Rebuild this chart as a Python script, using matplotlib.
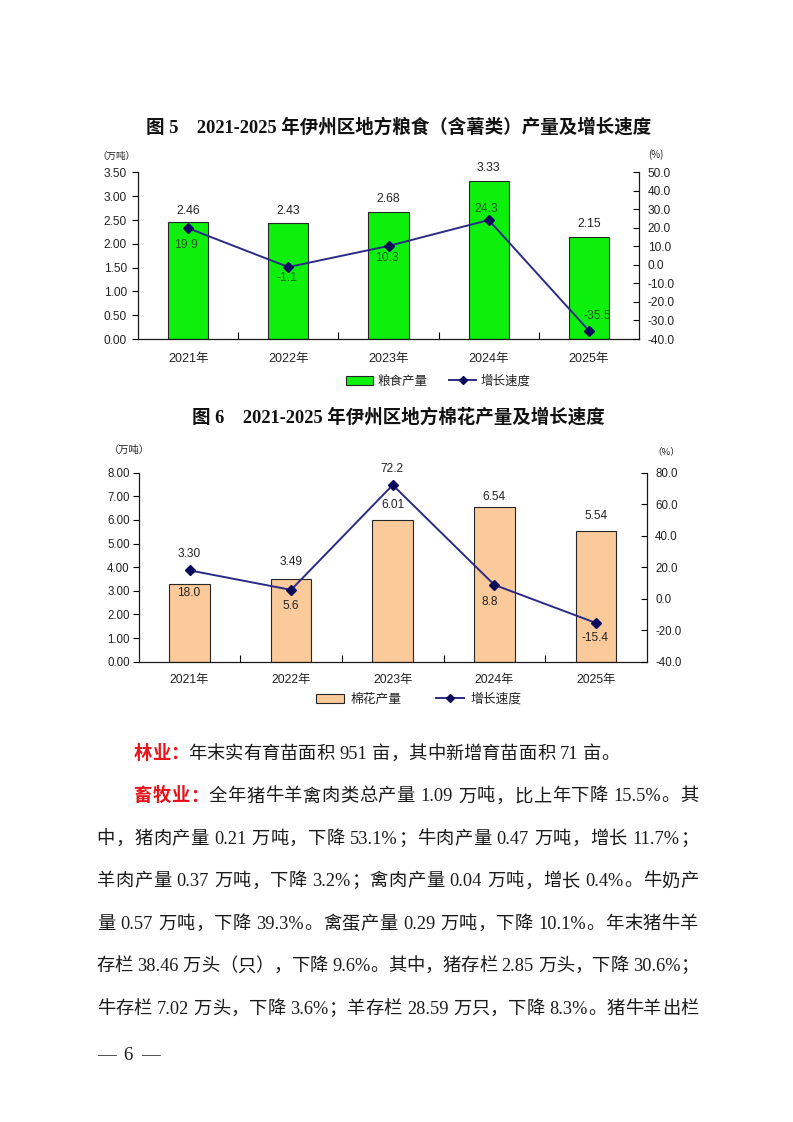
import re
import numpy as np
import matplotlib
matplotlib.use('Agg')
import matplotlib.pyplot as plt
import matplotlib.transforms as mtransforms
from matplotlib.font_manager import FontProperties
from matplotlib.patches import Patch
from matplotlib.lines import Line2D
from matplotlib.ticker import FormatStrFormatter

# ---------------- data ----------------
years = ['2021年', '2022年', '2023年', '2024年', '2025年']
grain_output = [2.46, 2.43, 2.68, 3.33, 2.15]      # 万吨
grain_growth = [19.9, -1.1, 10.3, 24.3, -35.5]     # %
cotton_output = [3.30, 3.49, 6.01, 6.54, 5.54]     # 万吨
cotton_growth = [18.0, 5.6, 72.2, 8.8, -15.4]      # %

title5 = '图 5\u30002021-2025 年伊州区地方粮食（含薯类）产量及增长速度'
title6 = '图 6\u30002021-2025 年伊州区地方棉花产量及增长速度'
legend5 = ['粮食产量', '增长速度']
legend6 = ['棉花产量', '增长速度']

body_lines = [
    ('林业：', '年末实有育苗面积 951 亩，其中新增育苗面积 71 亩。', False),
    ('畜牧业：', '全年猪牛羊禽肉类总产量 1.09 万吨，比上年下降 15.5%。其', True),
    ('', '中，猪肉产量 0.21 万吨，下降 53.1%；牛肉产量 0.47 万吨，增长 11.7%；', True),
    ('', '羊肉产量 0.37 万吨，下降 3.2%；禽肉产量 0.04 万吨，增长 0.4%。牛奶产', True),
    ('', '量 0.57 万吨，下降 39.3%。禽蛋产量 0.29 万吨，下降 10.1%。年末猪牛羊', True),
    ('', '存栏 38.46 万头（只），下降 9.6%。其中，猪存栏 2.85 万头，下降 30.6%；', True),
    ('', '牛存栏 7.02 万头，下降 3.6%；羊存栏 28.59 万只，下降 8.3%。猪牛羊出栏', True),
]
page_no = '— 6 —'

# ---------------- figure ----------------
W, H = 793, 1122
fig = plt.figure(figsize=(W / 100, H / 100), dpi=100)
fig.patch.set_facecolor('white')
PX = mtransforms.Affine2D().scale(1 / W, -1 / H).translate(0, 1) + fig.transFigure

CJK = 'Noto Sans CJK SC'
SANS = ['Liberation Sans', CJK, 'DejaVu Sans']
SERIF = ['Liberation Serif', CJK, 'DejaVu Sans']

LINE_C = '#2B2B86'
MARK_C = '#0A0A5C'
GREEN = '#0CF00C'
PEACH = '#FBCA9A'


def add_axes_px(left, top, right, bottom):
    return fig.add_axes([left / W, 1 - bottom / H, (right - left) / W, (bottom - top) / H])


def draw_chart(box, values, growth, bar_color, lmax, lstep, rmin, rmax, rstep,
               tick_fs, xfs, lpad, rpad, xpad, bar_dy, g_off, g_color, lab_fs):
    ax = add_axes_px(*box)
    x = np.arange(len(values))
    ax.bar(x, values, width=0.4, color=bar_color, edgecolor='#262626', linewidth=0.8, zorder=2)
    ax.set_xlim(-0.5, len(values) - 0.5)
    ax.set_ylim(0, lmax)
    ax.set_yticks(np.arange(0, lmax + 1e-9, lstep))
    ax.yaxis.set_major_formatter(FormatStrFormatter('%.2f'))
    ax.set_xticks(x)
    ax.set_xticklabels(years, fontfamily=SANS, fontsize=xfs, color='#222222')
    ax.set_xticks(np.arange(0.5, len(values) - 0.5, 1), minor=True)
    ax.tick_params(axis='x', which='major', length=0, pad=xpad)
    ax.tick_params(axis='x', which='minor', direction='in', length=5, width=0.8)
    ax.tick_params(axis='y', direction='out', length=4, width=0.8, pad=lpad,
                   labelsize=tick_fs, labelcolor='#222222')
    for lab in ax.get_yticklabels():
        lab.set_fontfamily(SANS)
    for s in ['top', 'right']:
        ax.spines[s].set_visible(False)
    for s in ['left', 'bottom']:
        ax.spines[s].set_linewidth(0.9)
        ax.spines[s].set_color('#1a1a1a')

    ax2 = ax.twinx()
    ax2.plot(x, growth, color=LINE_C, lw=1.4, marker='D', ms=5,
             markerfacecolor=MARK_C, markeredgecolor=MARK_C, zorder=3)
    ax2.set_ylim(rmin, rmax)
    ax2.set_yticks(np.arange(rmin, rmax + 1e-9, rstep))
    ax2.yaxis.set_major_formatter(FormatStrFormatter('%.1f'))
    ax2.tick_params(axis='y', direction='in', length=4, width=0.8, pad=rpad,
                    labelsize=tick_fs, labelcolor='#222222')
    for lab in ax2.get_yticklabels():
        lab.set_fontfamily(SANS)
    for s in ['top', 'left', 'bottom']:
        ax2.spines[s].set_visible(False)
    ax2.spines['right'].set_linewidth(0.9)
    ax2.spines['right'].set_color('#1a1a1a')

    for i, v in enumerate(values):
        ax.annotate(f'{v:.2f}', (i, v), xytext=(0, bar_dy[i]), textcoords='offset pixels',
                    ha='center', va='center', fontsize=lab_fs, fontfamily=SANS,
                    color='#222222', zorder=5)
    for i, g in enumerate(growth):
        ax2.annotate(f'{g:.1f}', (i, g), xytext=g_off[i], textcoords='offset pixels',
                     ha='center', va='center', fontsize=lab_fs, fontfamily=SANS,
                     color=g_color, zorder=5)
    return ax, ax2


# ---------- chart 5 ----------
fig.text(399, 127, title5, transform=PX, ha='center', va='center', fontsize=13.3,
         fontweight='bold', fontfamily=SERIF, color='#111111')
draw_chart((138, 172.5, 639, 339), grain_output, grain_growth, GREEN,
           3.5, 0.5, -40, 50, 10, tick_fs=8.6, xfs=9.0, lpad=4.0, rpad=6.2, xpad=10,
           bar_dy=[11, 12, 13, 13, 13],
           g_off=[(-2, -17), (-1, -11), (-2, -12), (-2, 11), (8, 15)],
           g_color='#235A23', lab_fs=8.8)
fig.text(116.5, 156, '（万吨）', transform=PX, ha='center', va='center', fontsize=6.8,
         fontfamily=[CJK], color='#222222')
fig.text(655.5, 155, '(%)', transform=PX, ha='center', va='center', fontsize=7,
         fontfamily=[CJK], color='#222222')
h5 = [Patch(facecolor=GREEN, edgecolor='#262626', linewidth=0.8),
      Line2D([], [], color=LINE_C, lw=1.4, marker='D', ms=4.5,
             markerfacecolor=MARK_C, markeredgecolor=MARK_C)]
fig.legend(h5, legend5, loc='center', bbox_to_anchor=(438.5 / W, 1 - 381 / H),
           ncol=2, frameon=False, prop=FontProperties(family=[CJK], size=9),
           handlelength=2.15, handleheight=0.7, handletextpad=0.4, columnspacing=1.7,
           borderpad=0, borderaxespad=0, labelcolor='#222222')

# ---------- chart 6 ----------
fig.text(398, 417, title6, transform=PX, ha='center', va='center', fontsize=13.3,
         fontweight='bold', fontfamily=SERIF, color='#111111')
draw_chart((138.7, 472.7, 646.7, 661.7), cotton_output, cotton_growth, PEACH,
           8.0, 1.0, -40, 80, 20, tick_fs=8.3, xfs=8.8, lpad=2.4, rpad=6.0, xpad=9,
           bar_dy=[30, 17, 15, 10, 15],
           g_off=[(-1, -23), (0, -16), (-1, 16), (-5, -17), (-1, -15)],
           g_color='#222222', lab_fs=8.6)
fig.text(129, 450, '（万吨）', transform=PX, ha='center', va='center', fontsize=7.4,
         fontfamily=[CJK], color='#222222')
fig.text(666, 452, '（%）', transform=PX, ha='center', va='center', fontsize=6.8,
         fontfamily=[CJK], color='#222222')
h6 = [Patch(facecolor=PEACH, edgecolor='#262626', linewidth=0.8),
      Line2D([], [], color=LINE_C, lw=1.4, marker='D', ms=4.5,
             markerfacecolor=MARK_C, markeredgecolor=MARK_C)]
fig.legend(h6, legend6, loc='center', bbox_to_anchor=(419 / W, 1 - 699 / H),
           ncol=2, frameon=False, prop=FontProperties(family=[CJK], size=9.2),
           handlelength=2.2, handleheight=0.7, handletextpad=0.5, columnspacing=2.7,
           borderpad=0, borderaxespad=0, labelcolor='#222222')

# ---------- body text ----------
renderer = fig.canvas.get_renderer()
BODY_PT = 13.2
EM = BODY_PT * 100 / 72
fp_body = FontProperties(family=SERIF, size=BODY_PT)


def tokens_of(s):
    return re.findall(r'[!-~]+|\s|.', s)


def tok_width(tok, fp):
    em = fp.get_size_in_points() * 100 / 72
    if tok == ' ':
        return 0.25 * em
    if ord(tok[0]) > 127 and tok[0] != '—':
        return em
    w, h, d = renderer.get_text_width_height_descent(tok, fp, ismath=False)
    return w


def layout_line(items, x0, baseline, target_right=None):
    # items: list of (token, style dict)
    widths = [tok_width(t, FontProperties(family=st['fontfamily'], size=st['fontsize']))
              for t, st in items]
    gap = 0.0
    if target_right is not None and len(items) > 1:
        gap = (target_right - x0 - sum(widths)) / (len(items) - 1)
    x = x0
    for (t, st), w in zip(items, widths):
        if t != ' ':
            fig.text(x, baseline, t, transform=PX, ha='left', va='baseline', **st)
        x += w + gap


LEFT = 96.7
RIGHT = 698.5
normal = dict(fontsize=BODY_PT, fontfamily=SERIF, color='#1a1a1a')
red = dict(fontsize=BODY_PT, fontfamily=[CJK], color='#E8141B', fontweight='bold')
for k, (prefix, text, justify) in enumerate(body_lines):
    center = 752 + k * 42.45
    base = center + 0.38 * EM
    items = [(t, red) for t in tokens_of(prefix)] + [(t, normal) for t in tokens_of(text)]
    x0 = LEFT + (2 * EM if prefix else 0)
    layout_line(items, x0, base, RIGHT if justify else None)

layout_line([(t, dict(fontsize=13.5, fontfamily=SERIF, color='#1a1a1a')) for t in tokens_of(page_no)],
            LEFT, 1060, 160)

fig.savefig('out.png', dpi=100, facecolor='white')
